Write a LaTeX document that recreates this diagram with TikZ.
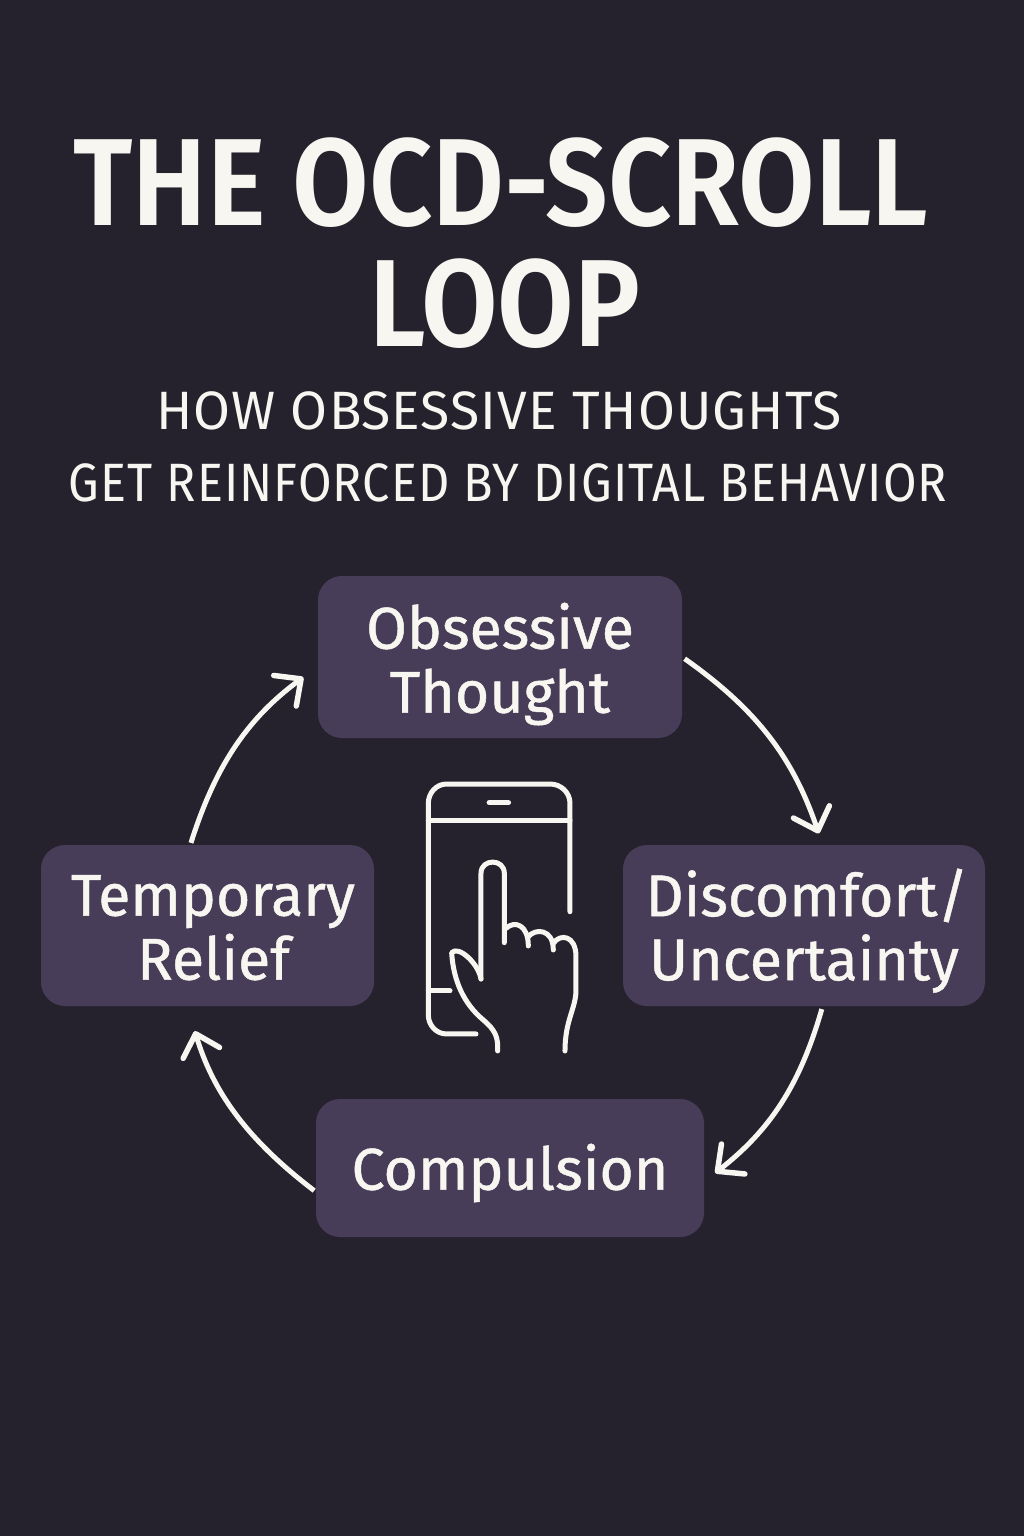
\documentclass[tikz,border=0pt]{standalone}
\usepackage{fontspec}
\setmainfont{Fira Sans}
\newfontfamily\titlefont[FakeStretch=0.895,UprightFont={* SemiBold}]{Fira Sans}
\newfontfamily\stagefont[FakeBold=0.8]{Fira Sans}
\newfontfamily\subfont[FakeStretch=0.99,LetterSpace=2]{Fira Sans}
\newfontfamily\subwidefont[FakeStretch=0.9,LetterSpace=2]{Fira Sans}
\usetikzlibrary{arrows.meta,positioning}
\definecolor{bgdark}{HTML}{26222D}
\definecolor{boxpurple}{HTML}{483D58}
\definecolor{inkwhite}{HTML}{F8F6F0}
\newcommand{\linedrop}[1]{\rule{0pt}{#1}}
\tikzset{
  stagebox/.style={fill=boxpurple,text=inkwhite,rounded corners=24pt,align=center,inner sep=0pt,
    font=\stagefont\fontsize{59}{64}\selectfont},
  flow/.style={draw=inkwhite,line width=5pt,-{Straight Barb[length=20pt,width=38pt,line width=5.5pt,round]}},
  headline/.style={text=inkwhite,inner sep=0pt,font=\titlefont\fontsize{124}{124}\selectfont},
  subline/.style={text=inkwhite,inner sep=0pt,font=\subfont\fontsize{54}{54}\selectfont},
  subwide/.style={text=inkwhite,inner sep=0pt,font=\subwidefont\fontsize{54}{54}\selectfont},
  phoneline/.style={draw=inkwhite,line width=5pt,line cap=round,line join=round}
}
\begin{document}
\begin{tikzpicture}[x=1pt,y=1pt]
  \fill[bgdark] (0,0) rectangle (1024,-1536);

  \node[headline] (title1) at (501,-183) {THE OCD-SCROLL};
  \node[headline] (title2) at (505,-304) {LOOP};
  \node[subline] (sub1) at (499,-411) {HOW OBSESSIVE THOUGHTS};
  \node[subwide] (sub2) at (508,-483) {GET REINFORCED BY DIGITAL BEHAVIOR};

  \node[stagebox,minimum width=364pt,minimum height=162pt] (thought) at (500,-657) {\linedrop{60pt}Obsessive\\Thought};
  \node[stagebox,minimum width=362pt,minimum height=161pt] (discomfort) at (804,-925.5) {\linedrop{58pt}\hspace*{6pt}Discomfort/\\Uncertainty};
  \node[stagebox,minimum width=388pt,minimum height=138pt] (compulsion) at (510,-1168) {\linedrop{56pt}Compulsion};
  \node[stagebox,minimum width=333pt,minimum height=161pt] (relief) at (207.5,-925.5) {\linedrop{45pt}\hspace*{11pt}Temporary\\\hspace*{12pt}Relief};

  % loop arrows
  \draw[flow,shorten <=3pt,shorten >=12pt] (thought.east) to[bend left=18] (discomfort.77);
  \draw[flow,shorten <=3pt,shorten >=14pt] (discomfort.-77) to[bend left=18] (compulsion.356.5);
  \draw[flow,shorten <=2pt,shorten >=26pt] (compulsion.187) to[bend left=18] (relief.256);
  \draw[flow,shorten <=2pt,shorten >=18pt] (relief.102) to[bend left=18] (thought.183);

  % phone and hand
  \begin{scope}[shift={(400,-760)},x=0.3333pt,y=-0.3333pt]
    \draw[phoneline] (228,822) -- (140,822) to[out=180,in=-90] (85,765) -- (85,130)
      to[out=90,in=180] (140,72) -- (450,72) to[out=0,in=90] (510,130) -- (510,455);
    \draw[phoneline] (85,180) -- (510,180);
    \draw[phoneline,line width=5.5pt] (268,128) -- (325,128);
    \draw[phoneline] (85,693) -- (150,693);
    \draw[phoneline] (243,657) -- (243,340) .. controls (243,295) and (313,295) .. (313,340) -- (313,548);
    \draw[phoneline] (318,505) .. controls (345,480) and (385,495) .. (385,558);
    \draw[phoneline] (385,530) .. controls (405,505) and (460,505) .. (460,570);
    \draw[phoneline] (460,550) .. controls (480,520) and (528,525) .. (528,590) -- (528,690)
      .. controls (528,745) and (495,780) .. (495,873);
    \draw[phoneline] (243,657) .. controls (235,610) and (175,555) .. (155,578)
      .. controls (160,660) and (190,730) .. (250,780) .. controls (285,810) and (295,830) .. (293,873);
  \end{scope}
\end{tikzpicture}
\end{document}
